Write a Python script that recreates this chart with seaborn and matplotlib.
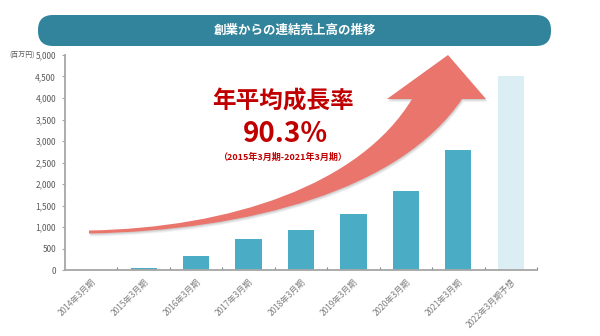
import matplotlib
matplotlib.use("Agg")
import matplotlib.pyplot as plt
import seaborn as sns
import pandas as pd
from matplotlib.path import Path
from matplotlib.patches import PathPatch, FancyBboxPatch
from matplotlib.ticker import FixedLocator, FuncFormatter

# --- data -------------------------------------------------------------
periods = ["2014年3月期", "2015年3月期", "2016年3月期", "2017年3月期",
           "2018年3月期", "2019年3月期", "2020年3月期", "2021年3月期",
           "2022年3月期予想"]
sales = [0, 50, 330, 720, 940, 1300, 1840, 2780, 4500]
bar_colors = ["#4BACC6"] * 8 + ["#DAEEF3"]
y_ticks = [0, 500, 1000, 1500, 2000, 2500, 3000, 3500, 4000, 4500, 5000]

title = "創業からの連結売上高の推移"
unit_label = "(百万円)"
cagr_title = "年平均成長率"
cagr_value = "90.3%"
cagr_period = "（2015年3月期-2021年3月期）"

# --- style ------------------------------------------------------------
sns.set_theme(style="white")
plt.rcParams["font.family"] = ["Noto Sans CJK JP", "DejaVu Sans"]

W, H = 600, 336
fig = plt.figure(figsize=(W / 100, H / 100), dpi=100)
fig.patch.set_facecolor("white")

ax = fig.add_axes([65 / W, 1 - 270 / H, (537 - 65) / W, (270 - 55) / H])

df = pd.DataFrame({"period": periods, "sales": sales})
sns.barplot(data=df, x="period", y="sales", hue="period",
            palette=bar_colors, legend=False, width=0.5, ax=ax,
            edgecolor="none", saturation=1)

ax.set_xlim(-0.5, len(periods) - 0.5)
ax.set_ylim(0, 5000)
ax.set_xlabel("")
ax.set_ylabel("")

axis_grey = "#A6A6A6"
label_grey = "#7F7F7F"
for side in ("top", "right"):
    ax.spines[side].set_visible(False)
for side in ("left", "bottom"):
    ax.spines[side].set_color(axis_grey)
    ax.spines[side].set_linewidth(1.3)

ax.yaxis.set_major_locator(FixedLocator(y_ticks))
ax.yaxis.set_major_formatter(FuncFormatter(lambda v, p: f"{int(v):,}"))
ax.tick_params(axis="y", which="major", direction="out", length=2.5,
               width=0.8, color=axis_grey, labelsize=6, labelcolor="#595959",
               pad=4, left=True)

# category labels at centres, tick marks at category boundaries
ax.set_xticks(range(len(periods)))
ax.set_xticklabels(periods, rotation=45, ha="right", rotation_mode="anchor",
                   fontsize=6, color=label_grey)
ax.tick_params(axis="x", which="major", length=0, pad=5)
ax.set_xticks([i + 0.5 for i in range(len(periods))], minor=True)
ax.tick_params(axis="x", which="minor", direction="in", length=2.5,
               width=0.8, color="#808080", bottom=True)

# --- overlay in pixel units (origin top-left) for decorations ----------
ov = fig.add_axes([0, 0, 1, 1], zorder=5)
ov.set_xlim(0, W)
ov.set_ylim(H, 0)
ov.set_axis_off()
ov.patch.set_alpha(0)

# growth arrow
upper = [(89, 230.5), (230, 228), (360, 185), (412, 99)]
lower = [(462, 99), (400, 190), (250, 230.5), (89, 233.5)]
verts = ([upper[0]] + upper[1:] +
         [(387, 99), (448, 55), (486, 99)] +
         lower + [upper[0]])
codes = ([Path.MOVETO] + [Path.CURVE4] * 3 +
         [Path.LINETO] * 3 +
         [Path.LINETO] + [Path.CURVE4] * 3 + [Path.CLOSEPOLY])

for dx, dy, alpha in [(1.5, 3.0, 0.07), (1.0, 2.0, 0.09), (0.5, 1.0, 0.11)]:
    shadow = Path([(x + dx, y + dy) for x, y in verts], codes)
    ov.add_patch(PathPatch(shadow, facecolor="#404040", edgecolor="none",
                           alpha=alpha, zorder=1))
ov.add_patch(PathPatch(Path(verts, codes), facecolor="#E9756C",
                       edgecolor="none", zorder=2))

# growth-rate annotation
red = "#C00000"
ov.text(283, 102, cagr_title, ha="center", va="center", color=red,
        fontsize=17, fontweight="bold")
ov.text(285, 134, cagr_value, ha="center", va="center", color=red,
        fontsize=20, fontweight="bold")
ov.text(282, 157, cagr_period, ha="center", va="center", color=red,
        fontsize=6.5, fontweight="bold")

# unit label beside the top y tick
ov.text(22, 55, unit_label, ha="center", va="center",
        color="#595959", fontsize=5)

# title banner
ov.add_patch(FancyBboxPatch((38, 15), 513, 31,
                            boxstyle="round,pad=0,rounding_size=15",
                            facecolor="#31849B", edgecolor="none", zorder=3))
ov.text(295, 30.5, title, ha="center", va="center", color="white",
        fontsize=9, fontweight="bold", zorder=4)

fig.savefig("out.png", dpi=100, facecolor="white")
